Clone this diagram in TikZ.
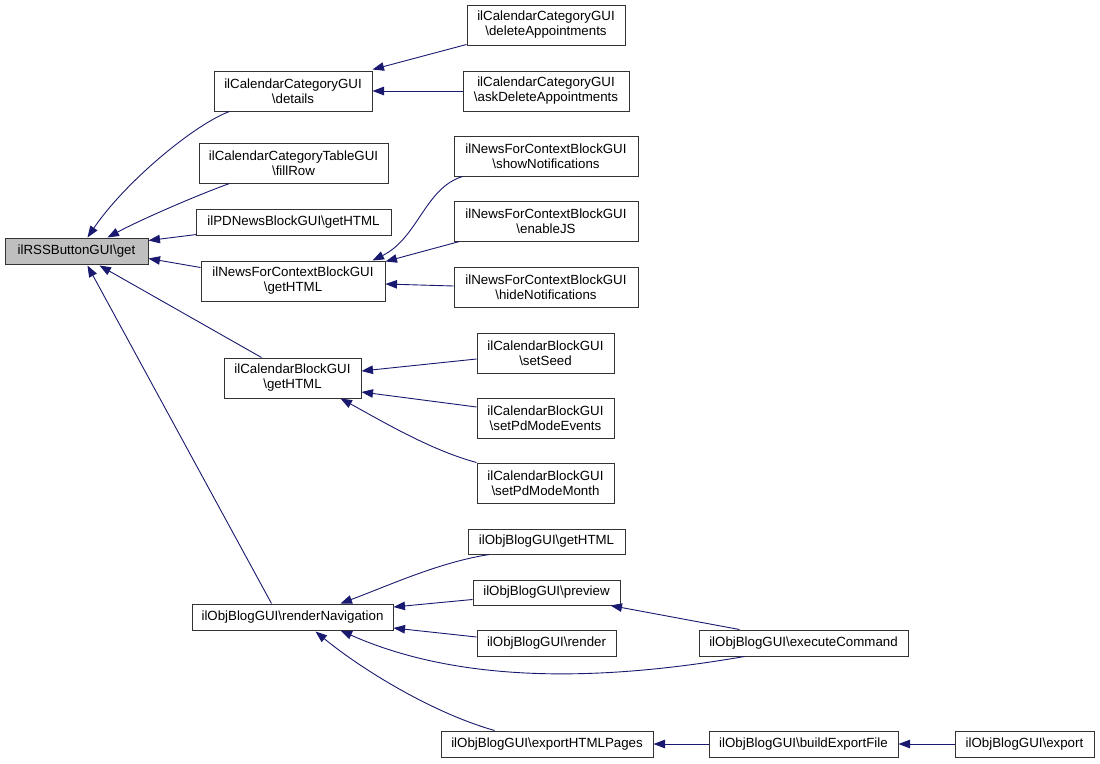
\documentclass[tikz,border=0pt]{standalone}
\usepackage{fontspec}
\setmainfont{Liberation Sans}
\usetikzlibrary{arrows.meta,calc}
\definecolor{edgecol}{HTML}{191970}
\definecolor{rootfill}{HTML}{BFBFBF}
\begin{document}
\begin{tikzpicture}[x=1pt,y=-1pt,
  box/.style={draw=black!80,line width=1pt,fill=white,inner sep=0pt,align=center,
    font=\fontsize{13.3}{15}\selectfont},
  edge/.style={draw=edgecol,line width=0.9pt,-{Triangle[length=11.5pt,width=8.5pt]}}]
\useasboundingbox[fill=white] (0,0) rectangle (1100,763);
% nodes
\node[box,fill=rootfill,minimum width=143,minimum height=26] (get) at (76.5,251) {ilRSSButtonGUI\textbackslash get};
\node[box,minimum width=158,minimum height=40] (details) at (293,91) {ilCalendarCategoryGUI\\\textbackslash details};
\node[box,minimum width=189,minimum height=40] (fillrow) at (293.5,163) {ilCalendarCategoryTableGUI\\\textbackslash fillRow};
\node[box,minimum width=195,minimum height=26] (pdnews) at (293.5,222) {ilPDNewsBlockGUI\textbackslash getHTML};
\node[box,minimum width=184,minimum height=40] (newsctx) at (293,281) {ilNewsForContextBlockGUI\\\textbackslash getHTML};
\node[box,minimum width=137,minimum height=40] (calblock) at (292.5,378) {ilCalendarBlockGUI\\\textbackslash getHTML};
\node[box,minimum width=201,minimum height=26] (rendernav) at (292.5,617) {ilObjBlogGUI\textbackslash renderNavigation};
\node[box,minimum width=158,minimum height=40] (delapp) at (546,25) {ilCalendarCategoryGUI\\\textbackslash deleteAppointments};
\node[box,minimum width=166,minimum height=40] (askdel) at (546,91) {ilCalendarCategoryGUI\\\textbackslash askDeleteAppointments};
\node[box,minimum width=184,minimum height=40] (shownot) at (546,156) {ilNewsForContextBlockGUI\\\textbackslash showNotifications};
\node[box,minimum width=184,minimum height=40] (enablejs) at (546,221) {ilNewsForContextBlockGUI\\\textbackslash enableJS};
\node[box,minimum width=184,minimum height=40] (hidenot) at (546,287) {ilNewsForContextBlockGUI\\\textbackslash hideNotifications};
\node[box,minimum width=137,minimum height=40] (setseed) at (545.5,353) {ilCalendarBlockGUI\\\textbackslash setSeed};
\node[box,minimum width=137,minimum height=40] (pdevents) at (545.5,418) {ilCalendarBlockGUI\\\textbackslash setPdModeEvents};
\node[box,minimum width=137,minimum height=40] (pdmonth) at (545.5,483) {ilCalendarBlockGUI\\\textbackslash setPdModeMonth};
\node[box,minimum width=157,minimum height=25] (bloghtml) at (546.5,541.5) {ilObjBlogGUI\textbackslash getHTML};
\node[box,minimum width=147,minimum height=25] (preview) at (546.5,592.5) {ilObjBlogGUI\textbackslash preview};
\node[box,minimum width=139,minimum height=26] (render) at (546.5,643) {ilObjBlogGUI\textbackslash render};
\node[box,minimum width=209,minimum height=26] (execcmd) at (803.5,643) {ilObjBlogGUI\textbackslash executeCommand};
\node[box,minimum width=212,minimum height=26] (exphtml) at (547,744) {ilObjBlogGUI\textbackslash exportHTMLPages};
\node[box,minimum width=189,minimum height=26] (buildexp) at (803.5,744) {ilObjBlogGUI\textbackslash buildExportFile};
\node[box,minimum width=139,minimum height=26] (export) at (1024.5,744) {ilObjBlogGUI\textbackslash export};
% edges
\draw[edge] ($(details.south west)+(16,0)$) .. controls (195,124) and (125,182) .. ($(get.north west)+(83,0)$);
\draw[edge] ($(fillrow.south west)+(31,0)$) .. controls (195,196) and (140,220) .. ($(get.north west)+(103,0)$);
\draw[edge] ($(pdnews.south west)+(1,-1)$) -- ($(get.north east)+(0,3)$);
\draw[edge] ($(newsctx.north west)+(0,7)$) -- ($(get.south east)+(0,-6)$);
\draw[edge] ($(calblock.north west)+(38,0)$) -- ($(get.south west)+(95,1)$);
\draw[edge] ($(rendernav.north west)+(80,0)$) -- ($(get.south west)+(83,1)$);
\draw[edge] ($(delapp.south west)+(0,-1)$) -- ($(details.north east)+(0,-1)$);
\draw[edge] (askdel.west) -- (details.east);
\draw[edge] ($(shownot.south west)+(9,0)$) .. controls (425,188) and (418,238) .. ($(newsctx.north east)+(-13,0)$);
\draw[edge] ($(enablejs.south west)+(6,0)$) -- ($(newsctx.north east)+(0,1)$);
\draw[edge] ($(hidenot.west)+(0,-1)$) -- ($(newsctx.east)+(0,3)$);
\draw[edge] ($(setseed.west)+(0,6)$) -- ($(calblock.east)+(0,-7)$);
\draw[edge] ($(pdevents.west)+(0,-11)$) -- ($(calblock.east)+(0,14)$);
\draw[edge] ($(pdmonth.north west)+(0,0)$) .. controls (430,450) and (380,420) .. ($(calblock.south east)+(-21,0)$);
\draw[edge] ($(bloghtml.south west)+(22,0)$) .. controls (440,562) and (390,585) .. ($(rendernav.north east)+(-53,0)$);
\draw[edge] ($(preview.west)+(0,7)$) -- ($(rendernav.east)+(0,-10)$);
\draw[edge] ($(render.west)+(0,-6)$) -- ($(rendernav.east)+(0,11)$);
\draw[edge] ($(execcmd.south west)+(46,0)$) .. controls (620,678) and (470,688) .. ($(rendernav.south east)+(-53,0)$);
\draw[edge] ($(exphtml.north west)+(54,0)$) .. controls (430,712) and (360,668) .. ($(rendernav.south east)+(-78,1)$);
\draw[edge] ($(execcmd.north west)+(41,0)$) -- ($(preview.south east)+(-10,0)$);
\draw[edge] (buildexp.west) -- (exphtml.east);
\draw[edge] (export.west) -- (buildexp.east);
\end{tikzpicture}
\end{document}
